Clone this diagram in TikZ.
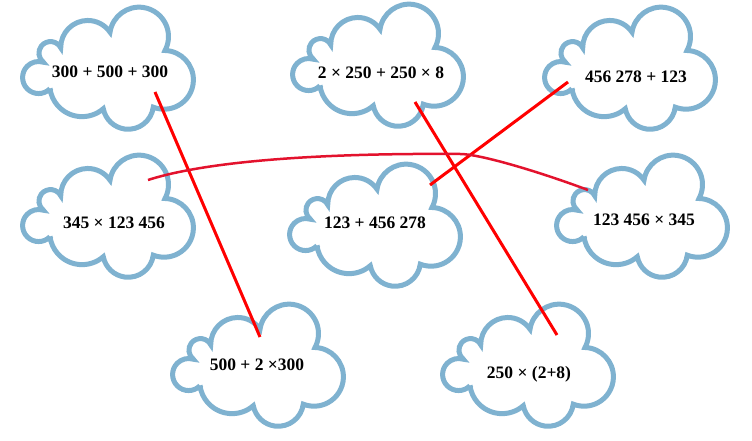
\documentclass[tikz,border=0pt]{standalone}
\usepackage{fontspec}
\setmainfont{Liberation Serif}
\usepackage{tikz}
\usetikzlibrary{positioning}
\definecolor{cloudblue}{HTML}{7FB2D0}
\definecolor{linkred}{HTML}{FF0000}
\definecolor{curvered}{HTML}{E3122D}
\tikzset{
  cloudline/.style={draw=cloudblue, fill=white, line width=5bp, miter limit=3},
  sum/.style={font=\fontsize{17.5bp}{21bp}\selectfont\bfseries, inner sep=1pt},
  link/.style={draw=linkred, line width=3bp},
  curvelink/.style={draw=curvered, line width=2.5bp},
  cloud/.pic={
    \draw[cloudline] (-58,20.8)
      arc[start angle=-44.7, delta angle=-242.3, radius=16.03bp]
      arc[start angle=231.5, delta angle=-203.8, radius=11.56bp]
      arc[start angle=180.6, delta angle=-146.1, radius=27.03bp]
      arc[start angle=171.4, delta angle=-199.6, radius=29.41bp]
      arc[start angle=88.1, delta angle=-199.6, radius=29.37bp]
      arc[start angle=-7.3, delta angle=-161.8, radius=25.33bp]
      arc[start angle=-49.1, delta angle=-122.9, radius=32.41bp]
      -- cycle;
  }
}

\begin{document}
\begin{tikzpicture}[x=1bp, y=-1bp]
 \useasboundingbox (0,0) rectangle (752,441);

 % clouds
 \pic at (108,68) {cloud};
 \pic at (378,65) {cloud};
 \pic at (630,68) {cloud};
 \pic at (108,216) {cloud};
 \pic at (375,225) {cloud};
 \pic at (642,216) {cloud};
 \pic at (258,365) {cloud};
 \pic at (528,365) {cloud};

 \node[sum] (n1) at (110,72) {300 + 500 + 300};
 \node[sum] (n2) at (381,73) {2 × 250 + 250 × 8};
 \node[sum] (n3) at (636,77) {456 278 + 123};
 \node[sum] (n4) at (114,223) {345 × 123 456};
 \node[sum] (n5) at (375,223) {123 + 456 278};
 \node[sum] (n6) at (644,220) {123 456 × 345};
 \node[sum] (n7) at (257,365) {500 + 2 ×300};
 \node[sum] (n8) at (529,374) {250 × (2+8)};

 % ends of the matching lines
 \coordinate (e1) at (155,92);
 \coordinate (e2) at (415,102);
 \coordinate (e3) at (568,82);
 \coordinate (e4) at (148,180);
 \coordinate (e5) at (430,185);
 \coordinate (e6) at (588,190);
 \coordinate (e7) at (260,337);
 \coordinate (e8) at (557,335);
 \coordinate (k) at (460,154);

 \draw[link] (e1) -- (e7);
 \draw[link] (e2) -- (e8);
 \draw[link] (e3) -- (e5);
 \draw[curvelink] (e4) .. controls (210,160) and (330,153) .. (k)
                       .. controls (480,154) and (540,172) .. (e6);
\end{tikzpicture}
\end{document}
